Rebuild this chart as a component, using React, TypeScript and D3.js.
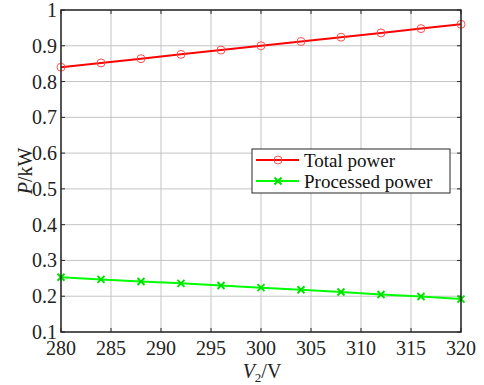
import { scaleLinear, line } from 'd3'

const voltages = [280, 284, 288, 292, 296, 300, 304, 308, 312, 316, 320]
const totalPower = [0.84, 0.852, 0.864, 0.876, 0.888, 0.9, 0.912, 0.924, 0.936, 0.948, 0.96]
const processedPower = [0.253, 0.247, 0.241, 0.236, 0.23, 0.224, 0.218, 0.212, 0.205, 0.199, 0.192]
const xTicks = [280, 285, 290, 295, 300, 305, 310, 315, 320]
const yTicks = [0.1, 0.2, 0.3, 0.4, 0.5, 0.6, 0.7, 0.8, 0.9, 1]
const yTickLabels = ['0.1', '0.2', '0.3', '0.4', '0.5', '0.6', '0.7', '0.8', '0.9', '1']
const legendLabels = ['Total power', 'Processed power']

const FONT = '"Liberation Serif", "Times New Roman", serif'

const App = () => {
  const width = 484
  const height = 385
  const margin = { top: 10, right: 23, bottom: 53, left: 61 }
  const innerWidth = width - margin.left - margin.right
  const innerHeight = height - margin.top - margin.bottom

  const xScale = scaleLinear().domain([280, 320]).range([0, innerWidth])
  const yScale = scaleLinear().domain([0.1, 1]).range([innerHeight, 0])

  const totalData = voltages.map((v, i) => ({ x: v, y: totalPower[i] }))
  const procData = voltages.map((v, i) => ({ x: v, y: processedPower[i] }))

  const lineGen = line<{ x: number; y: number }>()
    .x((d) => xScale(d.x))
    .y((d) => yScale(d.y))

  const tick = 4
  const axisColor = '#262626'
  const gridColor = '#c4c4c4'

  const legendX = 191
  const legendY = 139

  return (
    <svg
      width={width}
      height={height}
      style={{ position: 'absolute', left: 0, top: 0, background: '#fff' }}
      fontFamily={FONT}
    >
      <g transform={`translate(${margin.left} ${margin.top})`}>
        {/* grid */}
        {xTicks.map((t) => (
          <line key={'gx' + t} x1={xScale(t)} x2={xScale(t)} y1={0} y2={innerHeight} stroke={gridColor} strokeWidth={1} />
        ))}
        {yTicks.map((t) => (
          <line key={'gy' + t} x1={0} x2={innerWidth} y1={yScale(t)} y2={yScale(t)} stroke={gridColor} strokeWidth={1} />
        ))}

        {/* ticks, inward on all four sides */}
        {xTicks.map((t) => (
          <g key={'tx' + t} stroke={axisColor} strokeWidth={1}>
            <line x1={xScale(t)} x2={xScale(t)} y1={innerHeight} y2={innerHeight - tick} />
            <line x1={xScale(t)} x2={xScale(t)} y1={0} y2={tick} />
          </g>
        ))}
        {yTicks.map((t) => (
          <g key={'ty' + t} stroke={axisColor} strokeWidth={1}>
            <line x1={0} x2={tick} y1={yScale(t)} y2={yScale(t)} />
            <line x1={innerWidth} x2={innerWidth - tick} y1={yScale(t)} y2={yScale(t)} />
          </g>
        ))}

        {/* series */}
        <path d={lineGen(totalData) ?? ''} fill="none" stroke="#ff0000" strokeWidth={2} />
        {totalData.map((d) => (
          <circle key={'c' + d.x} cx={xScale(d.x)} cy={yScale(d.y)} r={4} fill="none" stroke="#ff5050" strokeWidth={1} />
        ))}
        <path d={lineGen(procData) ?? ''} fill="none" stroke="#00ff00" strokeWidth={2} />
        {procData.map((d) => (
          <g key={'m' + d.x} stroke="#00e000" strokeWidth={2}>
            <line x1={xScale(d.x) - 3.5} x2={xScale(d.x) + 3.5} y1={yScale(d.y) - 3.5} y2={yScale(d.y) + 3.5} />
            <line x1={xScale(d.x) - 3.5} x2={xScale(d.x) + 3.5} y1={yScale(d.y) + 3.5} y2={yScale(d.y) - 3.5} />
          </g>
        ))}

        {/* box */}
        <rect x={0} y={0} width={innerWidth} height={innerHeight} fill="none" stroke={axisColor} strokeWidth={1.5} />

        {/* tick labels */}
        {xTicks.map((t) => (
          <text key={'lx' + t} x={xScale(t)} y={innerHeight + 23} textAnchor="middle" fontSize={20} fill="#222">
            {t}
          </text>
        ))}
        {yTicks.map((t, i) => (
          <text key={'ly' + t} x={-4} y={yScale(t)} dy="0.35em" textAnchor="end" fontSize={20} fill="#222">
            {yTickLabels[i]}
          </text>
        ))}

        {/* legend */}
        <g transform={`translate(${legendX} ${legendY})`}>
          <rect x={0} y={0} width={198} height={44} fill="#fff" stroke={axisColor} strokeWidth={1} />
          <line x1={4} x2={47} y1={11} y2={11} stroke="#ff0000" strokeWidth={2} />
          <circle cx={26} cy={11} r={4} fill="none" stroke="#ff5050" strokeWidth={1} />
          <text x={52} y={11} dy="0.35em" fontSize={19} fill="#111">
            {legendLabels[0]}
          </text>
          <line x1={4} x2={47} y1={32} y2={32} stroke="#00ff00" strokeWidth={2} />
          <g stroke="#00e000" strokeWidth={2}>
            <line x1={22.5} x2={29.5} y1={28.5} y2={35.5} />
            <line x1={22.5} x2={29.5} y1={35.5} y2={28.5} />
          </g>
          <text x={52} y={32} dy="0.35em" fontSize={19} fill="#111">
            {legendLabels[1]}
          </text>
        </g>
      </g>

      {/* axis titles */}
      <text x={width / 2 + 20} y={378} textAnchor="middle" fontSize={20} fill="#222">
        <tspan fontStyle="italic">V</tspan>
        <tspan fontSize={13} dy={4}>2</tspan>
        <tspan dy={-4}>/V</tspan>
      </text>
      <text
        transform={`translate(32 ${margin.top + innerHeight / 2}) rotate(-90)`}
        textAnchor="middle"
        fontSize={20}
        fill="#222"
      >
        <tspan fontStyle="italic">P</tspan>
        <tspan>/kW</tspan>
      </text>
    </svg>
  )
}

export default App
